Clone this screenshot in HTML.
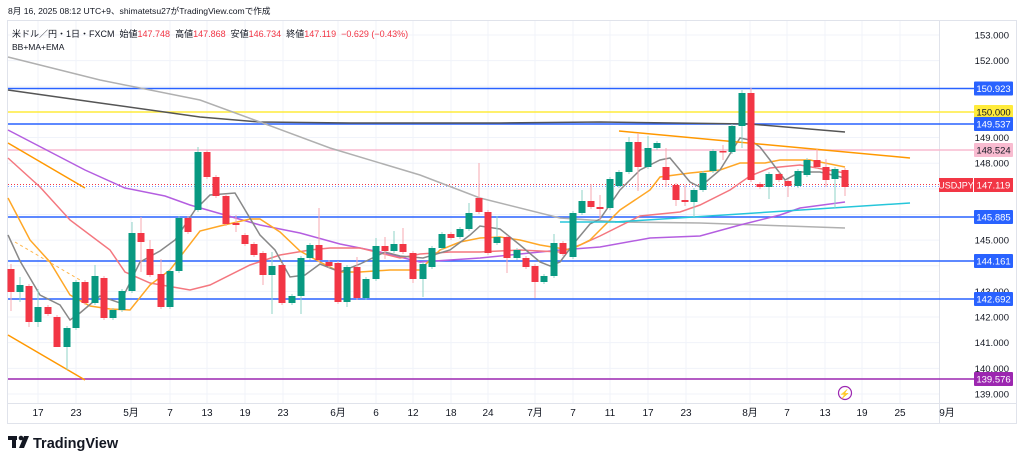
<!DOCTYPE html>
<html><head><meta charset="utf-8"><style>
body{margin:0;background:#fff;width:1024px;height:465px;overflow:hidden;font-family:"Liberation Sans","Noto Sans CJK JP",sans-serif}
</style></head><body>
<svg id="s" width="1024" height="465" xmlns="http://www.w3.org/2000/svg" font-family="Liberation Sans, Noto Sans CJK JP, sans-serif">
<text x="8" y="14" font-size="8.6" fill="#131722">8月 16, 2025 08:12 UTC+9、shimatetsu27がTradingView.comで作成</text>
<rect x="7.5" y="20.5" width="1009" height="403" fill="none" stroke="#e0e3eb"/>
<line x1="939.5" y1="20" x2="939.5" y2="423" stroke="#e0e3eb"/>
<line x1="7" y1="403.5" x2="1016" y2="403.5" stroke="#e0e3eb"/>
<g id="grid" stroke="#f0f3fa" stroke-width="1"></g>
<g id="hl"></g>
<g id="ma" fill="none" stroke-width="1.5"></g>
<g id="c"></g>
<g id="lab" font-size="9.5"></g>
<g id="xl" font-size="10" fill="#131722" text-anchor="middle"></g>
<text x="12" y="37" font-size="9" fill="#131722" xml:space="preserve">米ドル／円・1日・FXCM  始値<tspan fill="#f23645">147.748</tspan>  高値<tspan fill="#f23645">147.868</tspan>  安値<tspan fill="#f23645">146.734</tspan>  終値<tspan fill="#f23645">147.119  −0.629 (−0.43%)</tspan></text>
<text x="12" y="50" font-size="8.5" fill="#131722">BB+MA+EMA</text>
<circle cx="845" cy="393" r="6.5" fill="none" stroke="#9c27b0" stroke-width="1.2"/>
<text x="845" y="397" font-size="9" fill="#9c27b0" text-anchor="middle">⚡</text>
<g fill="#131722"><rect x="8" y="436" width="9" height="4"/><rect x="12" y="436" width="4" height="12"/><circle cx="21" cy="438" r="2.3"/><polygon points="24,436 29,436 24,448 19,448"/></g>
<text x="33" y="448" font-size="14.5" font-weight="bold" fill="#131722">TradingView</text>
</svg>
<script>
const NS="http://www.w3.org/2000/svg";
function el(p,t,a,txt){const e=document.createElementNS(NS,t);for(const k in a)e.setAttribute(k,a[k]);if(txt)e.textContent=txt;document.getElementById(p).appendChild(e);return e;}
const Y=p=>35+(153-p)*25.64;
for(let p=139;p<=153;p++){el('grid','line',{x1:8,x2:939,y1:Y(p),y2:Y(p)});if([139,140,141,142,143,145,148,149,152,153].includes(p))el('lab','text',{x:1009,y:Y(p)+3.5,'text-anchor':'end',fill:'#131722'},p.toFixed(3));}
const xs=[[38,'17'],[76,'23'],[131,'5月'],[170,'7'],[207,'13'],[245,'19'],[283,'23'],[338,'6月'],[376,'6'],[413,'12'],[451,'18'],[488,'24'],[535,'7月'],[573,'7'],[610,'11'],[648,'17'],[686,'23'],[750,'8月'],[787,'7'],[825,'13'],[862,'19'],[900,'25'],[947,'9月']];
xs.forEach(([x,t])=>{if(x<939)el('grid','line',{x1:x,x2:x,y1:21,y2:403});el('xl','text',{x:x,y:416},t);});
const hl=[[88.5,'#2962ff','150.923','#fff'],[112,'#ffeb3b','150.000','#131722'],[124,'#2962ff','149.537','#fff'],[150,'#f8bbd0','148.524','#131722'],[217,'#2962ff','145.885','#fff'],[261,'#2962ff','144.161','#fff'],[299,'#2962ff','142.692','#fff'],[379,'#9c27b0','139.576','#fff']];
el('hl','line',{x1:8,x2:939,y1:184.5,y2:184.5,stroke:'#f23645','stroke-dasharray':'1 2','stroke-width':1});
el('hl','line',{x1:8,x2:939,y1:186.5,y2:186.5,stroke:'#7b9cff','stroke-dasharray':'1 2','stroke-width':1});
hl.forEach(([y,c,t,tc])=>{el('hl','line',{x1:8,x2:974,y1:y,y2:y,stroke:c,'stroke-width':1.5});el('lab','rect',{x:974,y:y-7,width:39,height:14,fill:c,rx:1});el('lab','text',{x:993.5,y:y+3.5,'text-anchor':'middle',fill:tc},t);});
el('lab','rect',{x:939,y:178,width:34,height:14,fill:'#f23645'});
el('lab','text',{x:956,y:188.5,'text-anchor':'middle',fill:'#fff','font-size':9},'USDJPY');
el('lab','rect',{x:974,y:178,width:39,height:14,fill:'#f23645'});
el('lab','text',{x:993.5,y:188.5,'text-anchor':'middle',fill:'#fff'},'147.119');
const L=(c,pts,w,d)=>el('ma','polyline',{stroke:c,points:pts.map(p=>p.join(',')).join(' '),'stroke-width':w||1.5,'stroke-dasharray':d||'none'});
L('#555',[[8,90],[100,103],[200,117],[260,122],[350,123],[500,123],[600,122],[750,124],[845,132]],1.5);
L('#b0b0b0',[[8,57],[100,80],[200,100],[260,122],[330,148],[420,175],[480,198],[560,218],[620,222],[700,223],[845,228]],1.5);
L('#b45ee0',[[8,130],[85,170],[125,188],[165,196],[190,205],[225,215],[260,225],[300,233],[340,244],[380,252],[420,262],[480,258],[520,254],[560,250],[600,247],[650,238],[700,236],[740,225],[780,215],[800,208],[845,202]]);
L('#f4777f',[[8,158],[40,187],[70,220],[110,250],[125,272],[150,283],[190,290],[210,285],[250,265],[280,255],[310,250],[330,248],[360,248],[400,258],[420,254],[450,252],[480,252],[520,250],[560,252],[580,245],[600,236],[640,216],[680,212],[700,205],[730,190],[750,176],[770,168],[800,165],[845,173]]);
L('#ffa726',[[8,198],[30,240],[50,262],[70,295],[90,306],[110,309],[130,310],[150,285],[170,270],[200,231],[220,226],[250,219],[260,219],[280,232],[300,251],[320,262],[340,272],[360,272],[390,270],[420,270],[440,250],[460,242],[480,238],[500,237],[520,240],[540,245],[570,250],[590,240],[610,220],[620,210],[650,190],[660,177],[690,173],[720,170],[740,163],[765,163],[780,160],[810,160],[845,167]]);
L('#888',[[8,235],[20,261],[40,295],[60,305],[70,320],[80,313],[100,296],[120,303],[140,262],[160,251],[175,240],[195,210],[210,195],[235,193],[260,235],[275,250],[290,277],[305,275],[320,264],[340,272],[360,264],[385,252],[400,256],[423,258],[450,250],[470,235],[480,226],[500,229],[520,245],[540,262],[550,266],[560,262],[575,242],[590,224],[600,219],[620,190],[640,170],[660,160],[670,158],[690,182],[700,187],[720,170],[740,138],[750,140],[760,147],[770,160],[785,180],[800,172],[820,172],[845,178]]);
L('#ff9800',[[8,143],[85,188]]);L('#ff9800',[[8,335],[85,380]]);L('#ffb74d',[[15,242],[80,280]],1,'3 3');
L('#ff9800',[[619,131],[910,158]]);L('#26c6da',[[560,222],[625,222]]);L('#26c6da',[[615,222],[910,203]]);
const C=[[11,269,292,264,311],[20,292,285,277,302],[29,286,322,284,327],[38,322,307,289,327],[48,307,314,305,316],[57,317,347,315,347],[67,347,328,326,370],[76,328,282,280,330],[85,282,303,280,305],[95,303,276,265,305],[104,278,318,276,320],[113,318,310,308,320],[122,310,291,289,312],[132,291,233,222,293],[141,233,242,217,272],[150,249,275,240,277],[161,274,307,259,309],[170,307,271,269,309],[179,271,218,216,273],[188,218,232,216,234],[198,210,152,147,212],[207,152,177,150,179],[216,177,196,175,198],[226,196,224,194,226],[236,223,225,215,232],[245,235,244,233,246],[254,244,255,242,257],[263,253,275,251,285],[272,275,266,252,314],[282,265,303,263,305],[292,303,296,294,305],[301,296,258,256,314],[310,258,245,243,260],[319,245,260,208,262],[329,262,266,260,268],[338,263,302,261,304],[347,302,267,265,307],[357,267,298,257,300],[366,298,279,277,300],[376,279,246,238,281],[385,246,251,237,259],[394,251,244,231,253],[403,244,252,228,254],[413,253,279,251,283],[423,279,264,262,297],[432,267,248,246,269],[442,248,234,232,250],[451,234,238,232,240],[460,237,229,227,239],[469,229,213,203,231],[479,198,212,163,214],[488,212,253,210,255],[497,243,237,216,245],[507,237,258,235,273],[517,258,250,248,260],[526,258,267,256,269],[535,266,282,264,298],[544,282,276,274,284],[554,276,243,234,278],[563,243,254,241,256],[573,257,213,211,259],[582,213,201,190,215],[591,201,207,184,209],[600,207,209,195,220],[610,208,179,177,210],[619,186,172,170,188],[629,172,142,137,174],[638,142,167,133,191],[648,167,148,136,169],[657,148,143,141,150],[666,167,180,148,187],[676,185,200,183,206],[685,200,202,185,206],[694,202,190,188,217],[703,190,173,171,192],[713,171,151,149,173],[723,151,152,145,160],[732,152,126,124,154],[742,126,93,90,148],[751,93,180,88,182],[760,184,187,182,189],[769,187,174,172,199],[779,174,180,172,182],[788,181,186,179,197],[798,186,171,169,188],[807,175,160,158,177],[817,160,167,149,169],[826,167,180,159,187],[835,179,169,167,208],[845,170,187,168,196]];
C.forEach(([x,o,c,h,l])=>{const up=c<o;const col=up?'#089981':'#f23645';const wc=up?'#8fd3c7':'#f7a9b0';
el('c','line',{x1:x,x2:x,y1:h,y2:l,stroke:wc,'stroke-width':1});
el('c','rect',{x:x-3.5,y:Math.min(o,c),width:7,height:Math.max(1.5,Math.abs(o-c)),fill:col});});
</script>
</body></html>
